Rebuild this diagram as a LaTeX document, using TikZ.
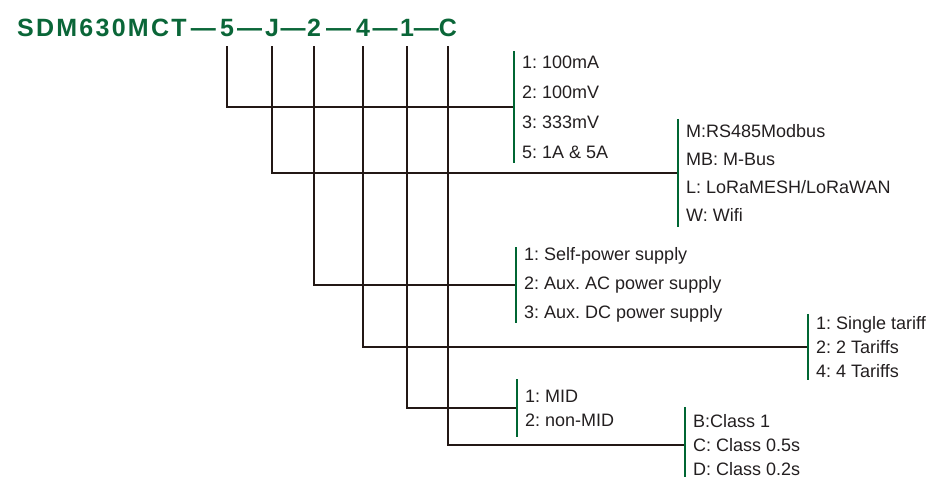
\documentclass[tikz,border=0pt]{standalone}
\usepackage{fontspec}
\setmainfont{Liberation Sans}
\newfontfamily\codefont[LetterSpace=9]{Liberation Sans}
\usetikzlibrary{calc}
\frenchspacing
\definecolor{sdmgreen}{RGB}{10,102,56}
\definecolor{barcol}{RGB}{0,102,51}
\definecolor{linecol}{RGB}{35,24,21}
\definecolor{textcol}{RGB}{35,31,32}

\begin{document}
\begin{tikzpicture}[x=1pt, y=-1pt,
  code/.style={inner sep=0pt, anchor=base, text=sdmgreen,
               font=\codefont\bfseries\fontsize{25}{30}\selectfont},
  optlist/.style={anchor=west, align=left, inner xsep=8pt, inner ysep=0pt,
                  text=textcol, font=\fontsize{18}{#1}\selectfont},
  link/.style={draw=linecol, line width=2pt, shorten <=10pt},
  bar/.style={draw=barcol, line width=2pt}
]
  \useasboundingbox (0,0) rectangle (938,477);

  % part number
  \node[code, anchor=base west] (head) at (17,36) {SDM630MCT};
  \foreach \p/\x in {5/227, J/272, 2/314, 4/363, 1/407, C/448}
    \node[code] (c\p) at (\x,36) {\p};
  \foreach \a/\b in {head/c5, c5/cJ, cJ/c2, c2/c4, c4/c1, c1/cC}
    \node[code] at ($(\a.base east)!.5!(\b.base west)$) {—};

  % option lists
  \node[optlist=30pt, minimum height=111pt] (g5) at (514,107) {1: 100mA\\2: 100mV\\3: 333mV\\5: 1A \& 5A};
  \node[optlist=28pt, minimum height=108pt] (gJ) at (678,173) {M:RS485Modbus\\MB: M-Bus\\L: LoRaMESH/LoRaWAN\\W: Wifi};
  \node[optlist=29pt, minimum height=74pt]  (g2) at (516,285) {1: Self-power supply\\2: Aux. AC power supply\\3: Aux. DC power supply};
  \node[optlist=24pt, minimum height=66pt]  (g4) at (808,347) {1: Single tariff\\2: 2 Tariffs\\4: 4 Tariffs};
  \node[optlist=24pt, minimum height=57pt]  (g1) at (517,408) {1: MID\\2: non-MID};
  \node[optlist=24pt, minimum height=76pt]  (gC) at (685,445) {B:Class 1\\C: Class 0.5s\\D: Class 0.2s};

  % connectors and bars
  \foreach \p in {5,J,2,4,1,C}
    \draw[link] (c\p.south) |- (g\p.west);
  \foreach \p in {5,J,2,4,1,C}
    \draw[bar] (g\p.north west) -- (g\p.south west);
\end{tikzpicture}
\end{document}
